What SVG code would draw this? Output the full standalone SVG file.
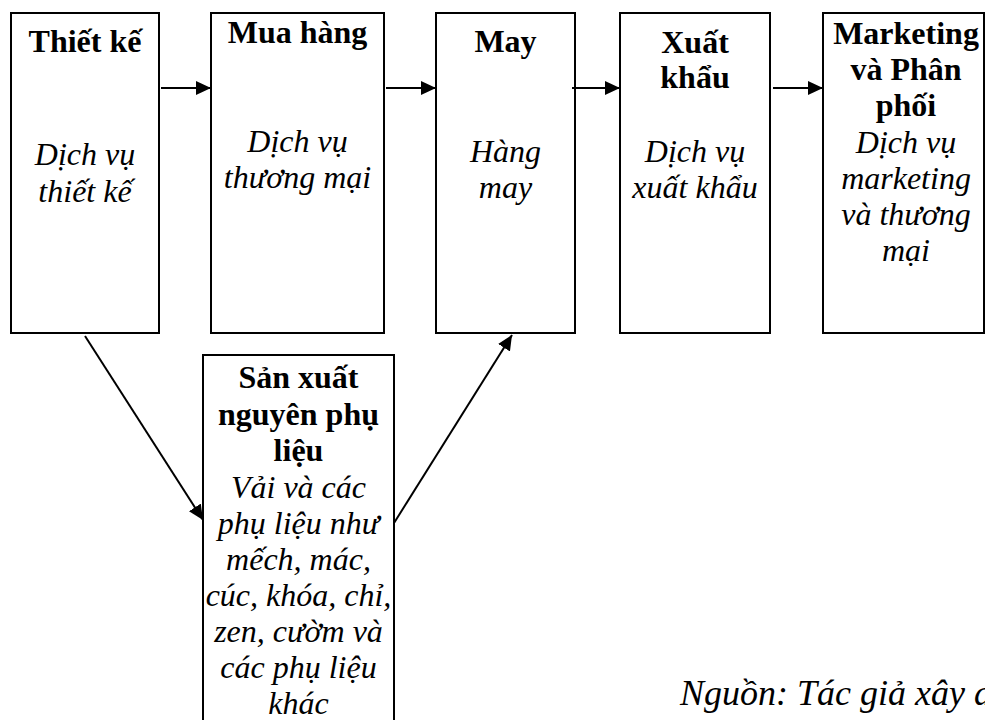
<svg xmlns="http://www.w3.org/2000/svg" width="985" height="720" viewBox="0 0 985 720">
  <style>
    .box { fill: #ffffff; stroke: #000000; stroke-width: 2; }
    .title { font-family: "Liberation Serif", "Times New Roman", serif; font-weight: bold; font-size: 32px; fill: #000000; text-anchor: middle; }
    .desc { font-family: "Liberation Serif", "Times New Roman", serif; font-style: italic; font-size: 32px; fill: #000000; text-anchor: middle; }
    .note { font-family: "Liberation Serif", "Times New Roman", serif; font-style: italic; font-size: 36px; fill: #000000; }
    .link { fill: none; stroke: #000000; stroke-width: 2; marker-end: url(#head); }
  </style>
  <defs>
    <marker id="head" markerUnits="userSpaceOnUse" markerWidth="16" markerHeight="14" refX="15" refY="7" orient="auto">
      <path d="M0,0 L15,7 L0,14 Z" fill="#000000"/>
    </marker>
  </defs>

  <!-- value chain stages -->
  <g id="thiet-ke">
    <rect class="box" x="11" y="13" width="148" height="320"/>
    <text class="title" x="85" y="52">Thiết kế</text>
    <text class="desc" x="85" y="165">Dịch vụ</text>
    <text class="desc" x="85" y="202">thiết kế</text>
  </g>

  <g id="mua-hang">
    <rect class="box" x="211" y="13" width="173" height="320"/>
    <text class="title" x="297.5" y="43">Mua hàng</text>
    <text class="desc" x="297.5" y="152">Dịch vụ</text>
    <text class="desc" x="297.5" y="188">thương mại</text>
  </g>

  <g id="may">
    <rect class="box" x="436" y="13" width="139" height="320"/>
    <text class="title" x="505.5" y="52">May</text>
    <text class="desc" x="505.5" y="162">Hàng</text>
    <text class="desc" x="505.5" y="198">may</text>
  </g>

  <g id="xuat-khau">
    <rect class="box" x="620" y="13" width="150" height="320"/>
    <text class="title" x="695" y="53">Xuất</text>
    <text class="title" x="695" y="88">khẩu</text>
    <text class="desc" x="695" y="162">Dịch vụ</text>
    <text class="desc" x="695" y="198">xuất khẩu</text>
  </g>

  <g id="marketing">
    <rect class="box" x="823" y="13" width="161" height="320"/>
    <text class="title" x="906" y="44">Marketing</text>
    <text class="title" x="906" y="80">và Phân</text>
    <text class="title" x="906" y="116">phối</text>
    <text class="desc" x="906" y="153">Dịch vụ</text>
    <text class="desc" x="906" y="189">marketing</text>
    <text class="desc" x="906" y="225">và thương</text>
    <text class="desc" x="906" y="261">mại</text>
  </g>

  <g id="nguyen-phu-lieu">
    <rect class="box" x="203" y="355" width="191" height="380"/>
    <text class="title" x="298.5" y="388">Sản xuất</text>
    <text class="title" x="298.5" y="425">nguyên phụ</text>
    <text class="title" x="298.5" y="461">liệu</text>
    <text class="desc" x="298.5" y="498">Vải và các</text>
    <text class="desc" x="298.5" y="534">phụ liệu như</text>
    <text class="desc" x="298.5" y="570">mếch, mác,</text>
    <text class="desc" x="298.5" y="606">cúc, khóa, chỉ,</text>
    <text class="desc" x="298.5" y="642">zen, cườm và</text>
    <text class="desc" x="298.5" y="678">các phụ liệu</text>
    <text class="desc" x="298.5" y="714">khác</text>
  </g>

  <!-- connectors -->
  <g id="connectors">
    <line class="link" x1="161" y1="88" x2="211" y2="88"/>
    <line class="link" x1="386" y1="88" x2="436" y2="88"/>
    <line class="link" x1="572" y1="88" x2="620" y2="88"/>
    <line class="link" x1="773" y1="88" x2="823" y2="88"/>
    <line class="link" x1="85" y1="336" x2="203" y2="520"/>
    <line class="link" x1="394" y1="523" x2="512" y2="335"/>
  </g>

  <text class="note" x="680" y="705">Nguồn: Tác giả xây dựng</text>
</svg>
